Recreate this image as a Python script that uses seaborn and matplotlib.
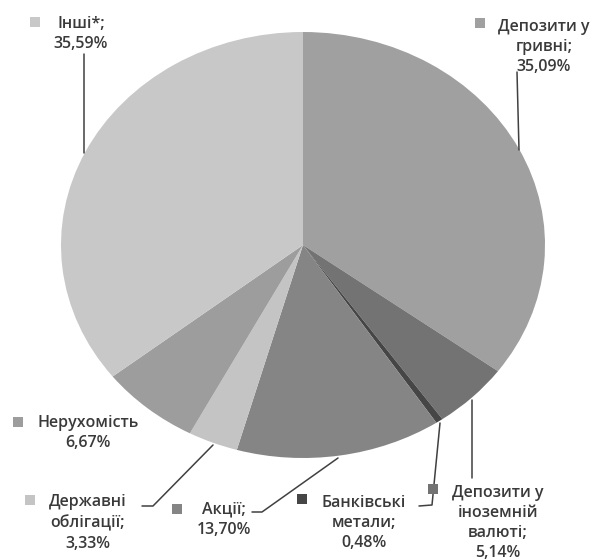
import matplotlib
matplotlib.use("Agg")
import matplotlib.pyplot as plt
import seaborn as sns

# ---- data ----
categories = ["Депозити у\nгривні;", "Депозити у\nіноземній\nвалюті;", "Банківські\nметали;",
              "Акції;", "Державні\nоблігації;", "Нерухомість", "Інші*;"]
shares = [35.09, 5.14, 0.48, 13.70, 3.33, 6.67, 35.59]
slice_colors = ["#a0a0a0", "#737373", "#464646", "#858585", "#c4c4c4", "#9d9d9d", "#c8c8c8"]

sns.set_theme(style="white")
plt.rcParams['font.family'] = ['Open Sans', 'DejaVu Sans']

W, H = 594, 560
CX, CY, RX, RY = 303, 245, 242, 213

fig = plt.figure(figsize=(W / 100, H / 100), dpi=100)
ax = fig.add_axes([0, 0, 1, 1])
ax.pie(shares, colors=slice_colors, startangle=90, counterclock=False,
       wedgeprops=dict(linewidth=0))
ax.set_aspect('auto')
ax.set_xlim(-CX / RX, (W - CX) / RX)
ax.set_ylim((CY - H) / RY, CY / RY)
ax.axis('off')


def fx(px):
    return (px - CX) / RX


def fy(py):
    return (CY - py) / RY


# label layout (pixel positions): text block centre, legend square, leader polyline
layout = [
    dict(text=(544, 47), sq=(480, 23), lead=[(517, 72), (519, 150)]),
    dict(text=(498, 523), sq=(433, 489), lead=[(472, 400), (472, 478)]),
    dict(text=(364, 523), sq=(302, 499), lead=[(440, 423), (432, 505), (419, 506)]),
    dict(text=(224, 520), sq=(177, 509), lead=[(338, 458), (262, 512), (252, 512)]),
    dict(text=(88, 523), sq=(30, 500), lead=[(213, 445), (153, 506), (142, 506)]),
    dict(text=(88, 433), sq=(18, 422), lead=None),
    dict(text=(81, 34), sq=(35, 22), lead=[(84, 54), (84, 153)]),
]

txt_color = "#3a3a3a"
for cat, val, col, lay in zip(categories, shares, slice_colors, layout):
    if lay["lead"]:
        xs = [fx(p[0]) for p in lay["lead"]]
        ys = [fy(p[1]) for p in lay["lead"]]
        ax.plot(xs, ys, color="#404040", lw=1.1, zorder=3)
    ax.scatter([fx(lay["sq"][0])], [fy(lay["sq"][1])], marker='s', s=48,
               color=col, linewidths=0, zorder=4)
    label = f"{cat}\n{val:.2f}%".replace('.', ',')
    ax.text(fx(lay["text"][0]), fy(lay["text"][1]), label, ha='center', va='center',
            fontsize=11.5, fontweight='semibold', color=txt_color,
            linespacing=1.36, zorder=5)

fig.savefig("out.png", dpi=100)
